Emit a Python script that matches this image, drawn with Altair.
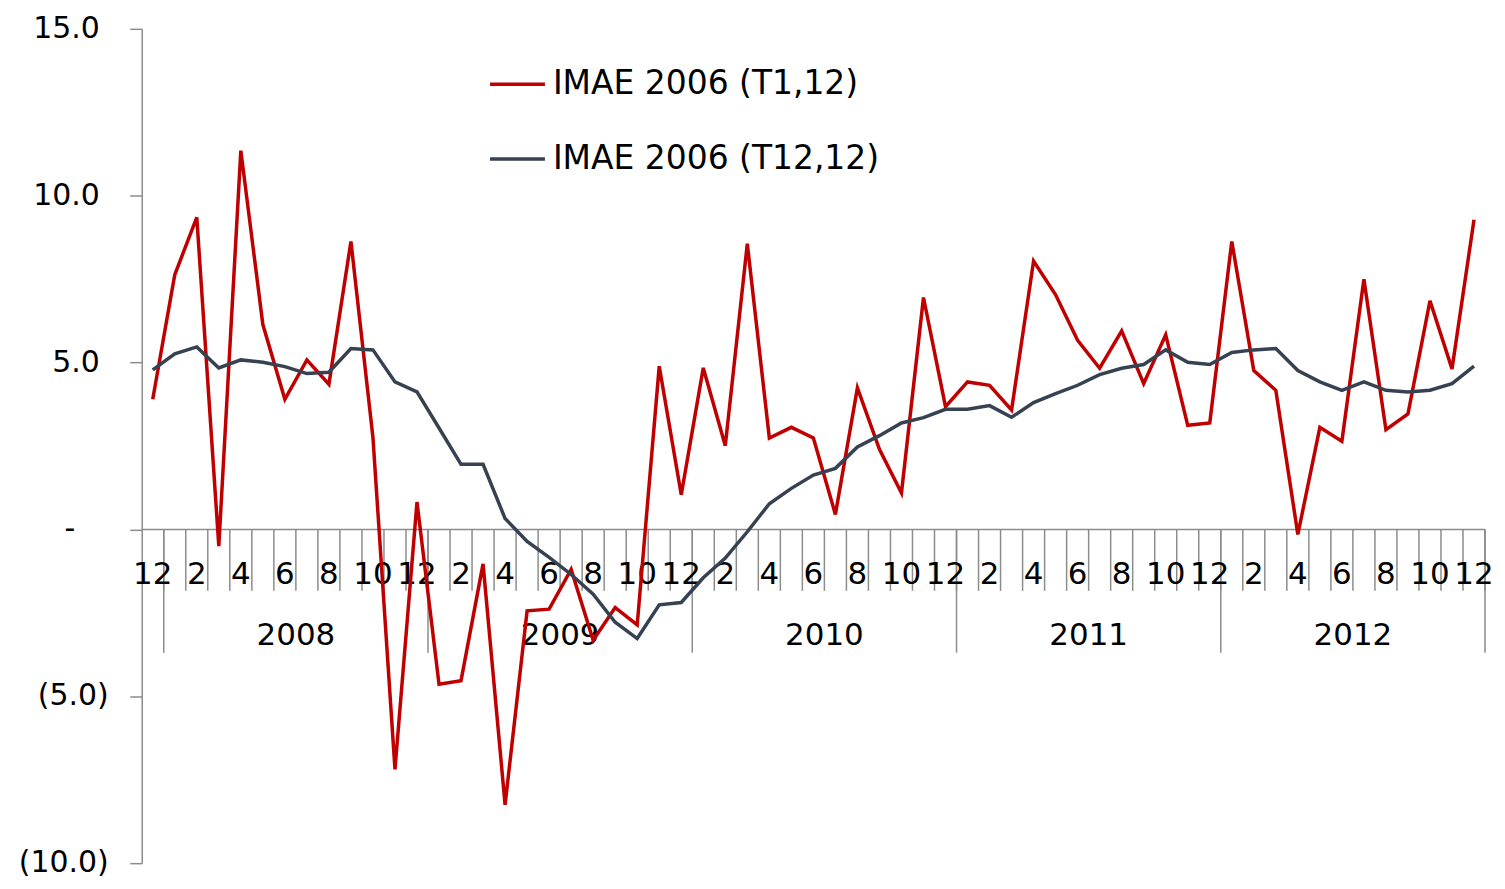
import altair as alt
import pandas as pd

# ---- data ----
months = [12] + [1, 2, 3, 4, 5, 6, 7, 8, 9, 10, 11, 12] * 5   # Dec 2007 .. Dec 2012
years = ["2008", "2009", "2010", "2011", "2012"]
y_ticks = [15, 10, 5, 0, -5, -10]

t1_12 = [3.9, 7.63, 9.35, -0.5, 11.35, 6.14, 3.9, 5.08, 4.35, 8.63, 2.75, -7.19, 0.82,
         -4.64, -4.53, -1.03, -8.25, -2.44, -2.39, -1.2, -3.32, -2.34, -2.86, 4.89, 1.04,
         4.84, 2.51, 8.56, 2.74, 3.06, 2.74, 0.45, 4.24, 2.4, 1.09, 6.95, 3.68,
         4.42, 4.32, 3.58, 8.04, 7.03, 5.67, 4.83, 5.95, 4.37, 5.83, 3.12, 3.19,
         8.63, 4.76, 4.17, -0.15, 3.06, 2.64, 7.5, 2.99, 3.46, 6.85, 4.81, 9.28]

t12_12 = [4.78, 5.26, 5.47, 4.84, 5.08, 5.01, 4.88, 4.67, 4.71, 5.42, 5.38, 4.42, 4.12,
          3.04, 1.95, 1.95, 0.33, -0.36, -0.84, -1.35, -1.94, -2.78, -3.27, -2.26, -2.19,
          -1.45, -0.86, -0.07, 0.77, 1.23, 1.63, 1.83, 2.47, 2.81, 3.19, 3.35, 3.6,
          3.6, 3.71, 3.36, 3.8, 4.07, 4.32, 4.64, 4.83, 4.94, 5.38, 5.01, 4.94,
          5.3, 5.38, 5.42, 4.76, 4.42, 4.17, 4.42, 4.17, 4.12, 4.17, 4.37, 4.89]

series_names = ["IMAE 2006 (T1,12)", "IMAE 2006 (T12,12)"]
series_colors = ["#C00000", "#364152"]

FONT = "DejaVu Sans"
GRAY = "#8C8C8C"
FS = 31
FS_Y = 30

# ---- layout ----
W, H = 1346, 836
YMIN, YMAX = -10, 15
ZERO_PX = H * YMAX / (YMAX - YMIN)   # pixel of y=0 from top of plot

n = len(months)
idx = list(range(n))

lines_df = pd.DataFrame({
    "k": idx * 2,
    "v": t1_12 + t12_12,
    "series": [series_names[0]] * n + [series_names[1]] * n,
})

month_lbl_df = pd.DataFrame({"k": idx, "m": [str(m) for m in months]})
month_lbl_df = month_lbl_df[[m % 2 == 0 for m in months]]

tick_df = pd.DataFrame({"b": [i + 0.5 for i in range(n)], "z": [0.0] * n})
year_sep_df = pd.DataFrame({"b": [0.5 + 12 * i for i in range(len(years) + 1)],
                            "z": [0.0] * (len(years) + 1)})
year_lbl_df = pd.DataFrame({"c": [6.5 + 12 * i for i in range(len(years))], "year": years})
zero_df = pd.DataFrame({"x0": [-0.5], "x1": [n - 0.5], "z": [0.0]})


def fmt(v):
    if v == 0:
        return "-"
    if v < 0:
        return "(%.1f)" % (-v)
    return "%.1f" % v


ylab_df = pd.DataFrame({"v": y_ticks, "t": [fmt(v) for v in y_ticks]})

xscale = alt.Scale(domain=[-0.5, n - 0.5], nice=False, zero=False)
yscale = alt.Scale(domain=[YMIN, YMAX], nice=False, zero=False)

color = alt.Color(
    "series:N",
    scale=alt.Scale(domain=series_names, range=series_colors),
    legend=alt.Legend(
        title=None, orient="none", legendX=347, legendY=26,
        symbolType="stroke", symbolSize=3025, symbolStrokeWidth=3.5,
        labelFont=FONT, labelFontSize=33, labelColor="black", labelOffset=6,
        labelLimit=1000, rowPadding=28, padding=0,
    ),
)

yaxis = alt.Axis(
    values=y_ticks, labels=False, title=None, grid=False,
    tickSize=12, tickColor=GRAY, tickWidth=1.5, domainColor=GRAY, domainWidth=1.5,
)

zero_axis = alt.Chart(zero_df).mark_rule(color=GRAY, strokeWidth=1.5).encode(
    x=alt.X("x0:Q", scale=xscale, axis=None), x2="x1:Q",
    y=alt.Y("z:Q", scale=yscale, axis=yaxis),
)

month_ticks = alt.Chart(tick_df).mark_rule(color=GRAY, strokeWidth=1.5).encode(
    x=alt.X("b:Q", scale=xscale, axis=None),
    y=alt.Y("z:Q", scale=yscale, axis=yaxis), y2=alt.value(ZERO_PX + 61.5),
)

year_ticks = alt.Chart(year_sep_df).mark_rule(color=GRAY, strokeWidth=1.5).encode(
    x=alt.X("b:Q", scale=xscale, axis=None),
    y=alt.Y("z:Q", scale=yscale, axis=yaxis), y2=alt.value(ZERO_PX + 123.5),
)

month_text = alt.Chart(month_lbl_df).mark_text(
    font=FONT, fontSize=FS, color="black", baseline="middle", align="center"
).encode(x=alt.X("k:Q", scale=xscale, axis=None), y=alt.value(ZERO_PX + 45.5), text="m:N")

year_text = alt.Chart(year_lbl_df).mark_text(
    font=FONT, fontSize=FS, color="black", baseline="middle", align="center"
).encode(x=alt.X("c:Q", scale=xscale, axis=None), y=alt.value(ZERO_PX + 107), text="year:N")


def ylabels(test, xpx, align):
    return alt.Chart(ylab_df).transform_filter(test).mark_text(
        font=FONT, fontSize=FS_Y, color="black", baseline="middle", align=align
    ).encode(x=alt.value(xpx), y=alt.Y("v:Q", scale=yscale, axis=yaxis), text="t:N")


ylab_pos = ylabels(alt.datum.v > 0, -42, "right")
ylab_neg = ylabels(alt.datum.v < 0, -33, "right")
ylab_zero = ylabels(alt.datum.v == 0, -72, "center")


def series_line(name):
    return alt.Chart(lines_df).transform_filter(
        alt.datum.series == name
    ).mark_line(strokeWidth=3.5).encode(
        x=alt.X("k:Q", scale=xscale, axis=None),
        y=alt.Y("v:Q", scale=yscale, axis=yaxis),
        color=color,
    )


chart = alt.layer(
    zero_axis, month_ticks, year_ticks, month_text, year_text,
    ylab_pos, ylab_neg, ylab_zero,
    series_line(series_names[0]), series_line(series_names[1]),
).properties(
    width=W, height=H,
    autosize=alt.AutoSizeParams(type="none"),
    padding={"left": 134, "top": 20, "right": 12, "bottom": 17},
).configure_view(stroke=None)

chart.save("out.html", embed_options={"renderer": "svg", "actions": False})
